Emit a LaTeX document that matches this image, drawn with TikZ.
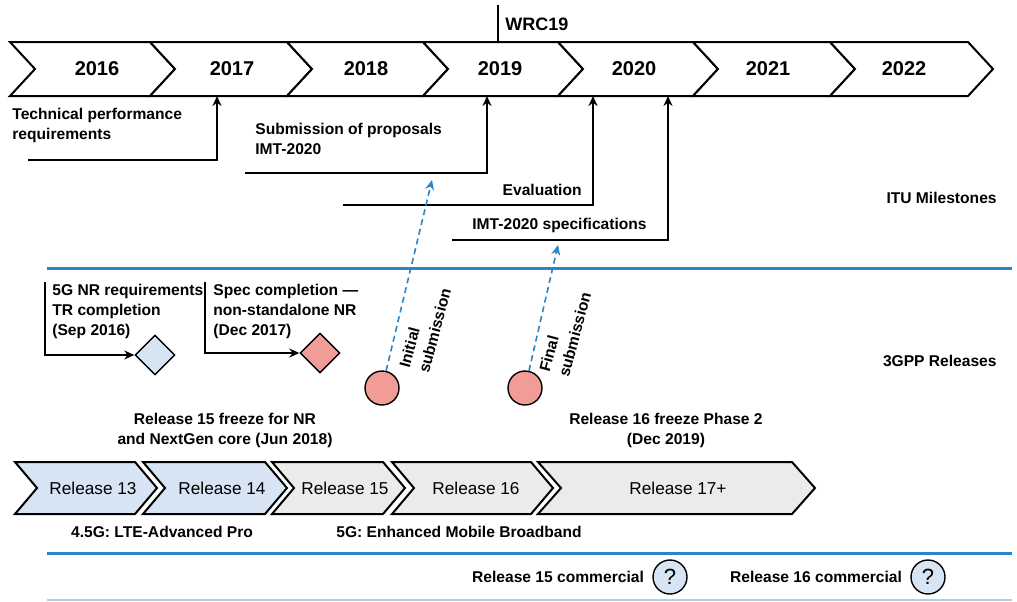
\documentclass[tikz,border=0pt]{standalone}
\usepackage{fontspec}
\setmainfont{Liberation Sans}
\usetikzlibrary{arrows.meta,shapes.geometric,positioning}
\definecolor{ituline}{HTML}{2A86C8}
\definecolor{paleline}{HTML}{A9D2EE}
\definecolor{relblue}{HTML}{D7E4F4}
\definecolor{relgrey}{HTML}{EBECEA}
\definecolor{msred}{HTML}{F19C96}
\tikzset{
  bar/.style={draw=black,line width=1pt,line join=miter},
  yearlab/.style={font=\fontsize{10}{12}\selectfont\bfseries},
  rellab/.style={font=\fontsize{8.6}{10}\selectfont},
  lab/.style={font=\fontsize{7.8}{10}\selectfont\bfseries,inner sep=0pt},
  msline/.style={draw=black,line width=1pt,-{Stealth[length=5pt,width=4.5pt]}},
  subline/.style={draw=ituline,line width=0.8pt,dash pattern=on 3pt off 2pt,-{Stealth[length=5pt,width=4.5pt]}},
  sepline/.style={draw=ituline,line width=1.5pt},
  msdiamond/.style={diamond,draw=black,line width=0.7pt,minimum size=20pt,inner sep=0pt},
  subdot/.style={circle,draw=black,line width=0.7pt,fill=msred,minimum size=17pt,inner sep=0pt},
  ask/.style={circle,draw=black,line width=0.7pt,fill=relblue,minimum size=17pt,inner sep=0pt,font=\fontsize{11}{12}\selectfont}
}
\newcommand{\chev}[6][]{\draw[bar,#1] (#2,#4) -- (#3,#4) -- ({#3+#6},{(#4+#5)/2}) -- (#3,#5) -- (#2,#5) -- ({#2+#6},{(#4+#5)/2}) -- cycle;}
\begin{document}
\begin{tikzpicture}[x=0.5pt,y=-0.5pt]
  \useasboundingbox (0,0) rectangle (1017,601);
  \foreach \xl/\xr/\xt/\yr in {10/150/97/2016,150/287/232/2017,287/423/366/2018,423/558/500/2019,558/693/634/2020,693/830/768/2021,830/968/904/2022}{
    \chev[fill=white]{\xl}{\xr}{42}{96}{25}
    \node[yearlab] (y\yr) at (\xt,69) {\yr};}
  \coordinate (wrc) at (498,5);
  \coordinate (wrcbar) at (498,42);
  \draw[line width=1pt] (wrc) -- (wrcbar);
  \node[lab,font=\fontsize{9}{10}\selectfont\bfseries,anchor=base west] (wrclab) at (505,30) {WRC19};
  \node[lab,anchor=north west,align=left] (techreq) at (12,108) {Technical performance\\requirements};
  \coordinate (techreqL) at (28,160);
  \coordinate (techreqT) at (217,96);
  \draw[msline] (techreqL) -| (techreqT);
  \node[lab,anchor=north west,align=left] (submit) at (255,123) {Submission of proposals\\IMT-2020};
  \coordinate (submitL) at (245,173);
  \coordinate (submitT) at (487,96);
  \draw[msline] (submitL) -| (submitT);
  \node[lab,anchor=base east] (eval) at (582,195) {Evaluation};
  \coordinate (evalL) at (343,205);
  \coordinate (evalT) at (593,96);
  \draw[msline] (evalL) -| (evalT);
  \node[lab,anchor=base west] (imtspec) at (472,229) {IMT-2020 specifications};
  \coordinate (imtspecL) at (452,240);
  \coordinate (imtspecT) at (668,96);
  \draw[msline] (imtspecL) -| (imtspecT);
  \node[lab,anchor=base east] (itu) at (997,203) {ITU Milestones};
  \coordinate (sepAL) at (47,268);
  \coordinate (sepAR) at (1012,268);
  \draw[sepline] (sepAL) -- (sepAR);
  \node[msdiamond,fill=relblue] (nrreq) at (155,355) {};
  \node[lab,anchor=north west,align=left] (nrreqlab) at (52,284) {5G NR requirements\\TR completion\\(Sep 2016)};
  \coordinate (nrreqL) at (45,282);
  \draw[msline] (nrreqL) |- (nrreq.west);
  \node[msdiamond,fill=msred] (nsa) at (320,353) {};
  \node[lab,anchor=north west,align=left] (nsalab) at (213,284) {Spec completion —\\non-standalone NR\\(Dec 2017)};
  \coordinate (nsaL) at (205,282);
  \draw[msline] (nsaL) |- (nsa.west);
  \node[subdot] (init) at (382,388) {};
  \node[subdot] (final) at (525,388) {};
  \coordinate (initT) at (432,180);
  \coordinate (finalT) at (558,245);
  \draw[subline] (init) -- (initT);
  \draw[subline] (final) -- (finalT);
  \node[lab,rotate=75,align=left] (initlab) at (425,328) {Initial\\submission};
  \node[lab,rotate=75,align=left] (finallab) at (565,332) {Final\\submission};
  \node[lab,anchor=base east] (gpp) at (997,366) {3GPP Releases};
  \node[lab,align=center] (fr15) at (225,430) {Release 15 freeze for NR\\and NextGen core (Jun 2018)};
  \node[lab,align=center] (fr16) at (666,430) {Release 16 freeze Phase 2\\(Dec 2019)};
  \foreach \xl/\xr/\d/\xt/\col/\n/\rel in {15/135/22/93/relblue/13/13,143/265/22/222/relblue/14/14,272/383/22/345/relgrey/15/15,392/531/22/476/relgrey/16/16,538/792/23/678/relgrey/17/17+}{
    \chev[fill=\col]{\xl}{\xr}{462}{514}{\d}
    \node[rellab] (r\n) at (\xt,488) {Release \rel};}
  \node[lab] (lte) at (162,532) {4.5G: LTE-Advanced Pro};
  \node[lab] (embb) at (459,532) {5G: Enhanced Mobile Broadband};
  \coordinate (sepBL) at (47,553);
  \coordinate (sepBR) at (1012,553);
  \draw[sepline] (sepBL) -- (sepBR);
  \node[ask] (q15) at (670,577) {?};
  \node[lab,left=4pt of q15] (c15) {Release 15 commercial};
  \node[ask] (q16) at (928,577) {?};
  \node[lab,left=4pt of q16] (c16) {Release 16 commercial};
  \coordinate (sepCL) at (47,600);
  \coordinate (sepCR) at (1012,600);
  \draw[paleline,line width=1pt] (sepCL) -- (sepCR);
\end{tikzpicture}
\end{document}
